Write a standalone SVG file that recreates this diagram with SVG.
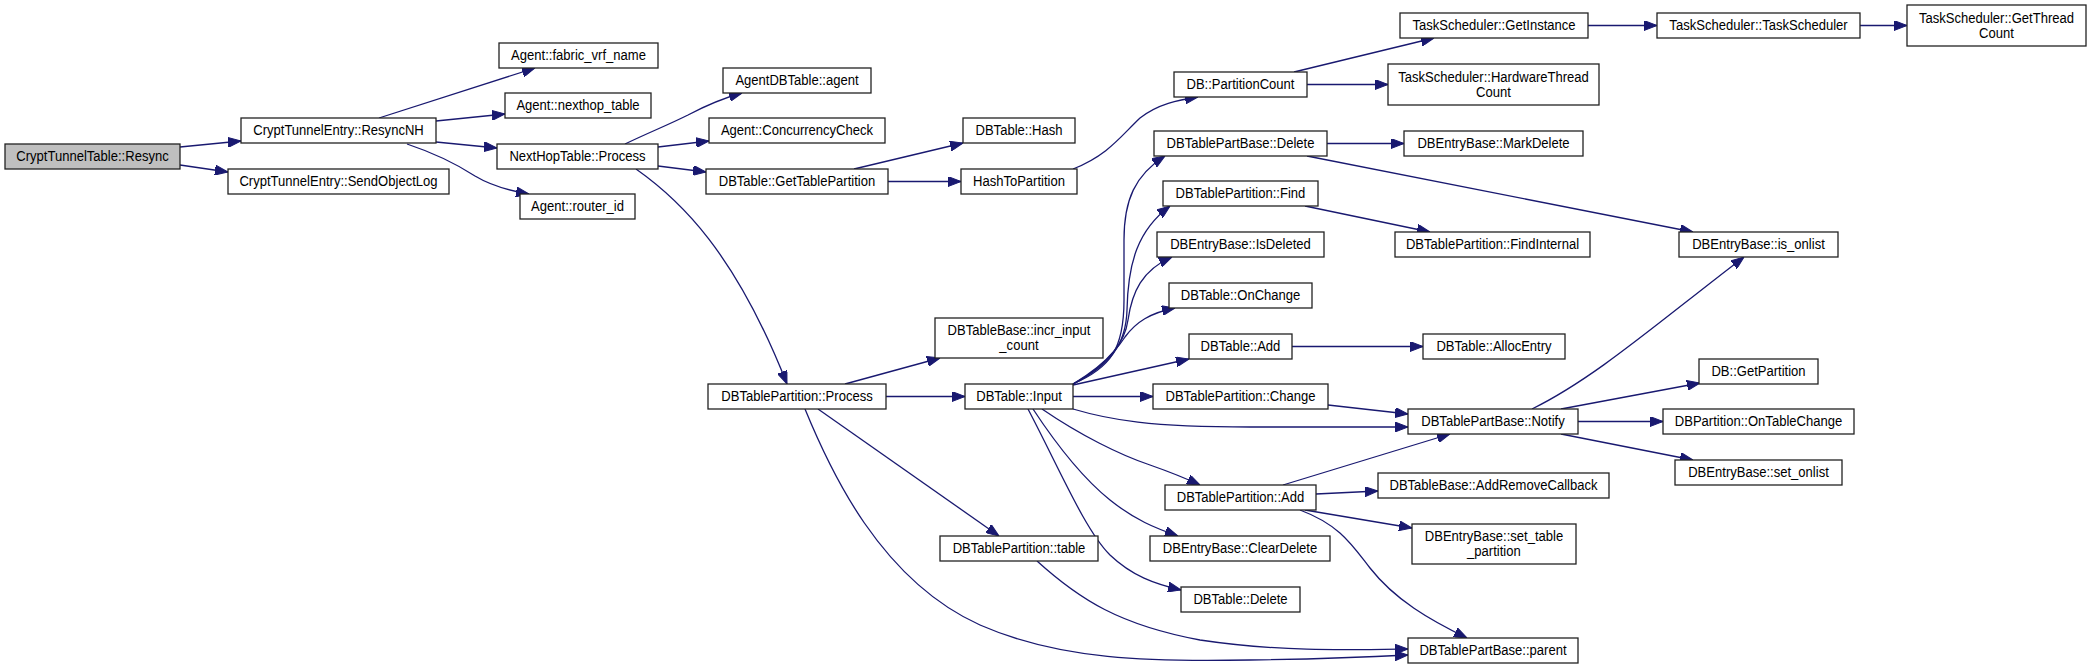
<svg xmlns="http://www.w3.org/2000/svg" width="2091" height="669" viewBox="0 0 2091 669">
<style>
.n rect{fill:#ffffff;stroke:#222222;stroke-width:1.3}
.root rect{fill:#bfbfbf}
.n text{font-family:"Liberation Sans",Arial,sans-serif;font-size:14.5px;fill:#000;text-anchor:middle;transform-box:fill-box;transform-origin:center;transform:scaleX(0.9)}
.e path{fill:none;stroke:#191970;stroke-width:1.3;marker-end:url(#arr)}
</style>
<defs>
<marker id="arr" markerWidth="13" markerHeight="10" refX="13" refY="5" orient="auto" markerUnits="userSpaceOnUse"><path d="M0,0 L13,5 L0,10 z" fill="#191970" stroke="#191970" stroke-width="1"/></marker>
</defs>
<rect width="2091" height="669" fill="#ffffff"/>
<g id="edges" class="e">
<path d="M180,147 L241,141"/>
<path d="M180,165 L228,172"/>
<path d="M379,118 L535,68"/>
<path d="M436,121 L505,114"/>
<path d="M436,142 L497,148"/>
<path d="M407,144 C440,155 458,165 475,176 C490,185 505,190 529,194"/>
<path d="M625,144 C650,132 668,125 688,115 C705,106 720,99 742,93"/>
<path d="M658,147 L709,141"/>
<path d="M658,166 L706,172"/>
<path d="M636,169 C680,200 735,252 787,384"/>
<path d="M854,169 L963,143"/>
<path d="M888,181.5 L961,181.5"/>
<path d="M1073,169 C1108,155 1120,137 1140,118 C1158,104 1178,100 1198,97"/>
<path d="M1294,72 L1434,38"/>
<path d="M1307,84.5 L1388,84.5"/>
<path d="M1588,25.5 L1657,25.5"/>
<path d="M1860,25.5 L1907,25.5"/>
<path d="M845,384 L940,358"/>
<path d="M886,396.5 L965,396.5"/>
<path d="M818,409 L999,536"/>
<path d="M805,409 C830,470 880,580 980,625 C1060,660 1150,662 1250,660 C1320,659 1370,657 1408,655"/>
<path d="M1073,384 C1110,368 1124,350 1124,300 L1124,240 C1124,200 1135,175 1165,156"/>
<path d="M1073,384 C1110,365 1126,345 1127,310 C1128,262 1138,230 1170,206"/>
<path d="M1073,384 C1110,362 1125,342 1128,320 C1132,292 1142,270 1172,257"/>
<path d="M1073,384 C1100,370 1115,352 1125,337 C1136,322 1150,313 1175,308"/>
<path d="M1073,385 L1189,359"/>
<path d="M1073,396.5 L1153,396.5"/>
<path d="M1073,409 C1110,420 1150,427 1250,427 C1320,427 1370,427 1408,427"/>
<path d="M1042,409 C1080,435 1120,455 1150,465 C1170,472 1185,478 1200,485"/>
<path d="M1033,409 C1060,450 1085,480 1110,500 C1135,520 1155,528 1178,536"/>
<path d="M1028,409 C1060,470 1085,530 1110,555 C1132,576 1155,584 1181,590"/>
<path d="M1327,143.5 L1404,143.5"/>
<path d="M1307,156 L1693,232"/>
<path d="M1305,206 L1430,232"/>
<path d="M1292,346.5 L1423,346.5"/>
<path d="M1328,405 L1408,414"/>
<path d="M1283,485 L1450,434"/>
<path d="M1316,494 L1378,491"/>
<path d="M1305,510 L1412,528"/>
<path d="M1300,510 C1340,525 1352,545 1370,568 C1395,600 1430,620 1467,638"/>
<path d="M1532,409 C1595,378 1655,325 1744,257"/>
<path d="M1561,409 L1700,383"/>
<path d="M1578,421.5 L1663,421.5"/>
<path d="M1561,434 L1693,460"/>
<path d="M1037,561 C1080,600 1120,625 1200,640 C1280,652 1350,650 1408,649"/>
</g>
<g id="n0" class="n root"><rect x="5" y="144" width="175" height="25"/><text x="92.5" y="161.5">CryptTunnelTable::Resync</text></g>
<g id="n1" class="n"><rect x="241" y="118" width="195" height="25"/><text x="338.5" y="135.5">CryptTunnelEntry::ResyncNH</text></g>
<g id="n2" class="n"><rect x="228" y="169" width="221" height="25"/><text x="338.5" y="186.5">CryptTunnelEntry::SendObjectLog</text></g>
<g id="n3" class="n"><rect x="499" y="43" width="159" height="25"/><text x="578.5" y="60.5">Agent::fabric_vrf_name</text></g>
<g id="n4" class="n"><rect x="505" y="93" width="146" height="25"/><text x="578" y="110.5">Agent::nexthop_table</text></g>
<g id="n5" class="n"><rect x="497" y="144" width="161" height="25"/><text x="577.5" y="161.5">NextHopTable::Process</text></g>
<g id="n6" class="n"><rect x="520" y="194" width="115" height="25"/><text x="577.5" y="211.5">Agent::router_id</text></g>
<g id="n7" class="n"><rect x="723" y="68" width="148" height="25"/><text x="797" y="85.5">AgentDBTable::agent</text></g>
<g id="n8" class="n"><rect x="709" y="118" width="176" height="25"/><text x="797" y="135.5">Agent::ConcurrencyCheck</text></g>
<g id="n9" class="n"><rect x="706" y="169" width="182" height="25"/><text x="797" y="186.5">DBTable::GetTablePartition</text></g>
<g id="n10" class="n"><rect x="963" y="118" width="112" height="25"/><text x="1019" y="135.5">DBTable::Hash</text></g>
<g id="n11" class="n"><rect x="961" y="169" width="116" height="25"/><text x="1019" y="186.5">HashToPartition</text></g>
<g id="n12" class="n"><rect x="1174" y="72" width="133" height="25"/><text x="1240.5" y="89.5">DB::PartitionCount</text></g>
<g id="n13" class="n"><rect x="1400" y="13" width="188" height="25"/><text x="1494" y="30.5">TaskScheduler::GetInstance</text></g>
<g id="n14" class="n"><rect x="1657" y="13" width="203" height="25"/><text x="1758.5" y="30.5">TaskScheduler::TaskScheduler</text></g>
<g id="n15" class="n"><rect x="1907" y="5" width="179" height="41"/><text x="1996.5" y="22.7">TaskScheduler::GetThread</text><text x="1996.5" y="37.7">Count</text></g>
<g id="n16" class="n"><rect x="1388" y="64" width="211" height="41"/><text x="1493.5" y="81.7">TaskScheduler::HardwareThread</text><text x="1493.5" y="96.7">Count</text></g>
<g id="n17" class="n"><rect x="1154" y="131" width="173" height="25"/><text x="1240.5" y="148.5">DBTablePartBase::Delete</text></g>
<g id="n18" class="n"><rect x="1404" y="131" width="179" height="25"/><text x="1493.5" y="148.5">DBEntryBase::MarkDelete</text></g>
<g id="n19" class="n"><rect x="1163" y="181" width="155" height="25"/><text x="1240.5" y="198.5">DBTablePartition::Find</text></g>
<g id="n20" class="n"><rect x="1395" y="232" width="195" height="25"/><text x="1492.5" y="249.5">DBTablePartition::FindInternal</text></g>
<g id="n21" class="n"><rect x="1679" y="232" width="159" height="25"/><text x="1758.5" y="249.5">DBEntryBase::is_onlist</text></g>
<g id="n22" class="n"><rect x="1157" y="232" width="167" height="25"/><text x="1240.5" y="249.5">DBEntryBase::IsDeleted</text></g>
<g id="n23" class="n"><rect x="1169" y="283" width="143" height="25"/><text x="1240.5" y="300.5">DBTable::OnChange</text></g>
<g id="n24" class="n"><rect x="1189" y="334" width="103" height="25"/><text x="1240.5" y="351.5">DBTable::Add</text></g>
<g id="n25" class="n"><rect x="1423" y="334" width="142" height="25"/><text x="1494" y="351.5">DBTable::AllocEntry</text></g>
<g id="n26" class="n"><rect x="935" y="318" width="168" height="40"/><text x="1019" y="335">DBTableBase::incr_input</text><text x="1019" y="350">_count</text></g>
<g id="n27" class="n"><rect x="708" y="384" width="178" height="25"/><text x="797" y="401.5">DBTablePartition::Process</text></g>
<g id="n28" class="n"><rect x="965" y="384" width="108" height="25"/><text x="1019" y="401.5">DBTable::Input</text></g>
<g id="n29" class="n"><rect x="1153" y="384" width="175" height="25"/><text x="1240.5" y="401.5">DBTablePartition::Change</text></g>
<g id="n30" class="n"><rect x="1408" y="409" width="170" height="25"/><text x="1493" y="426.5">DBTablePartBase::Notify</text></g>
<g id="n31" class="n"><rect x="1699" y="359" width="119" height="25"/><text x="1758.5" y="376.5">DB::GetPartition</text></g>
<g id="n32" class="n"><rect x="1663" y="409" width="191" height="25"/><text x="1758.5" y="426.5">DBPartition::OnTableChange</text></g>
<g id="n33" class="n"><rect x="1675" y="460" width="167" height="25"/><text x="1758.5" y="477.5">DBEntryBase::set_onlist</text></g>
<g id="n34" class="n"><rect x="1165" y="485" width="151" height="25"/><text x="1240.5" y="502.5">DBTablePartition::Add</text></g>
<g id="n35" class="n"><rect x="1378" y="473" width="231" height="25"/><text x="1493.5" y="490.5">DBTableBase::AddRemoveCallback</text></g>
<g id="n36" class="n"><rect x="1412" y="524" width="164" height="40"/><text x="1494" y="541">DBEntryBase::set_table</text><text x="1494" y="556">_partition</text></g>
<g id="n37" class="n"><rect x="940" y="536" width="158" height="25"/><text x="1019" y="553.5">DBTablePartition::table</text></g>
<g id="n38" class="n"><rect x="1150" y="536" width="180" height="25"/><text x="1240" y="553.5">DBEntryBase::ClearDelete</text></g>
<g id="n39" class="n"><rect x="1181" y="587" width="119" height="25"/><text x="1240.5" y="604.5">DBTable::Delete</text></g>
<g id="n40" class="n"><rect x="1408" y="638" width="170" height="25"/><text x="1493" y="655.5">DBTablePartBase::parent</text></g>
</svg>
